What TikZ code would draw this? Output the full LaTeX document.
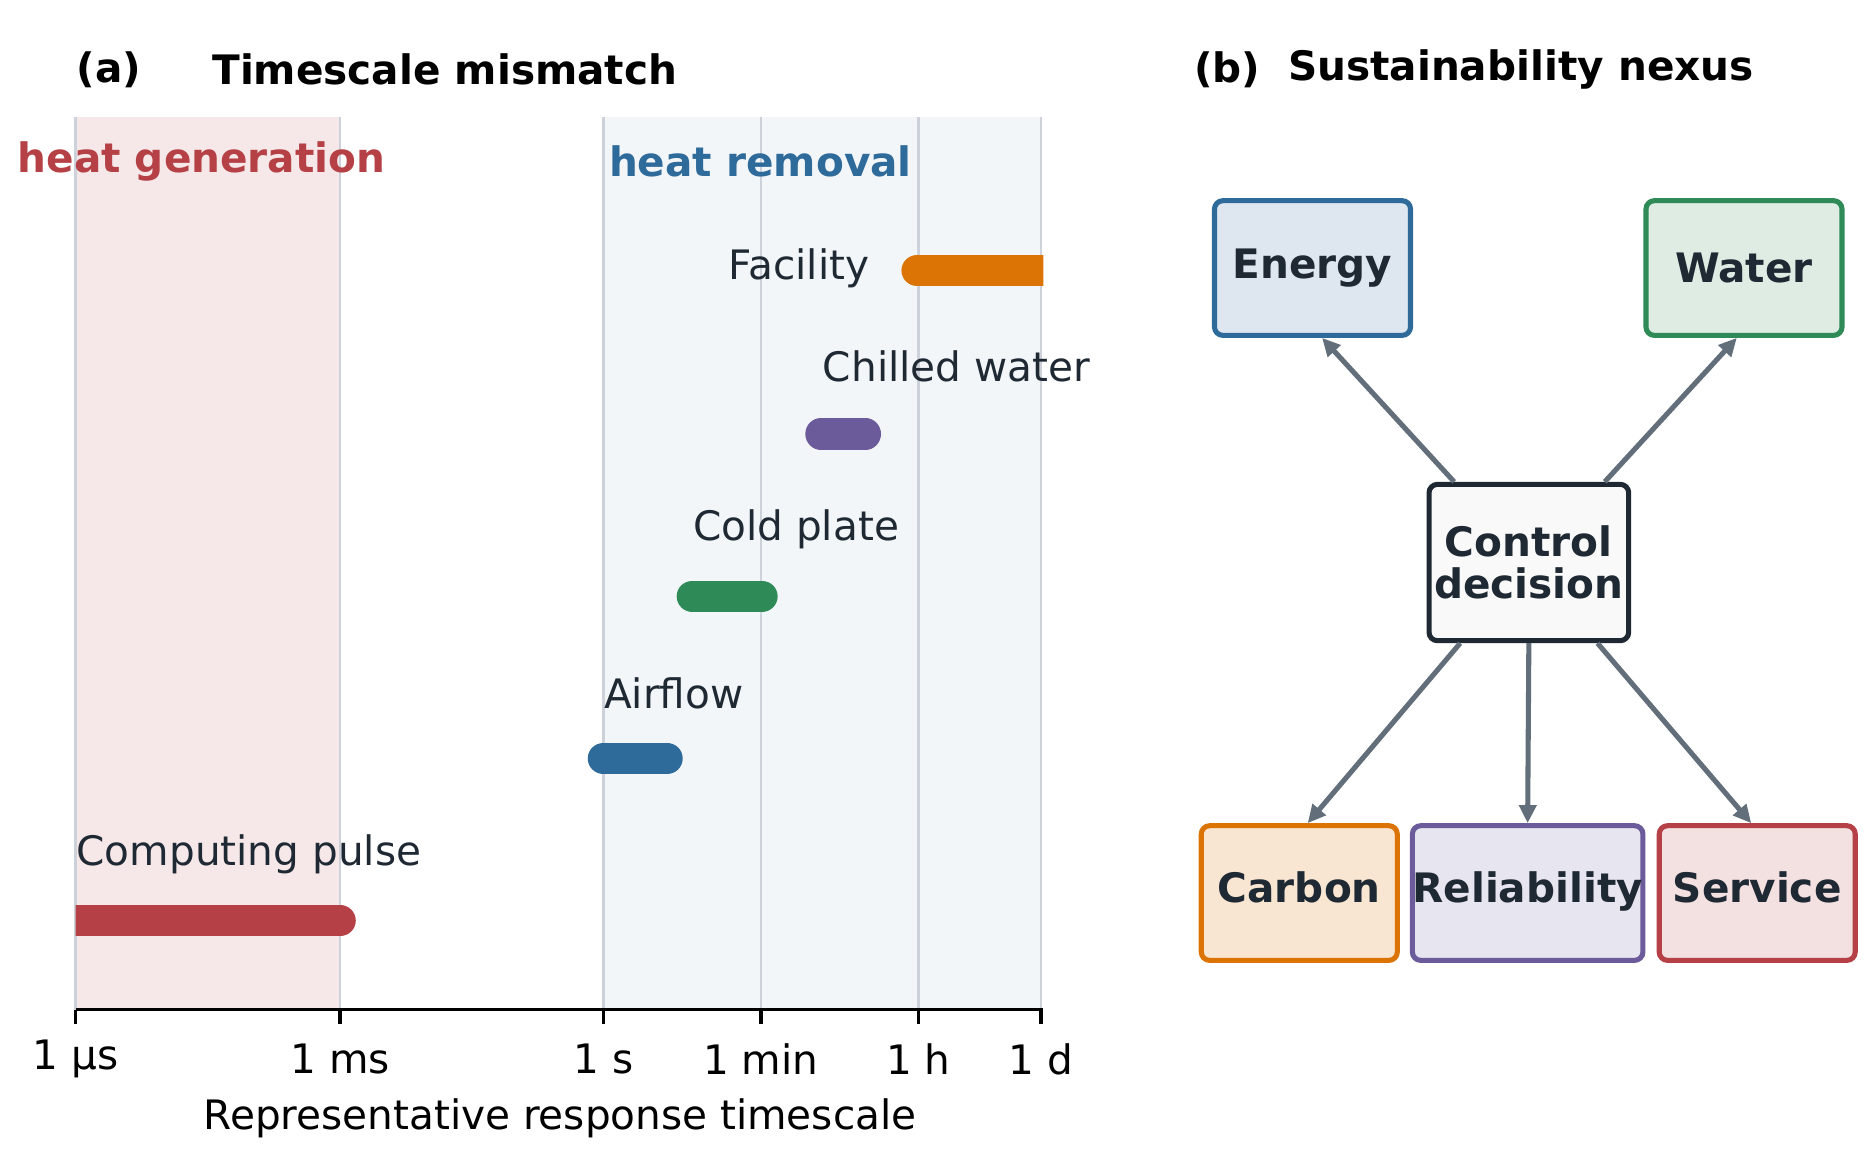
\documentclass[tikz,border=0pt]{standalone}
\usepackage{fontspec}
\setmainfont{DejaVu Sans}
\usetikzlibrary{arrows.meta, positioning}
\definecolor{genred}{HTML}{B54045}
\definecolor{remblue}{HTML}{2E6A9A}
\definecolor{platgreen}{HTML}{2E8B57}
\definecolor{chillpurple}{HTML}{6C5B9B}
\definecolor{facorange}{HTML}{DB7404}
\definecolor{inkdark}{HTML}{1F2933}
\definecolor{arrowgray}{HTML}{636E7B}
\definecolor{gridgray}{HTML}{CDD2DA}

\begin{document}
\begin{tikzpicture}[x=0.01cm, y=-0.01cm,
    lbl/.style={font=\fontsize{9.6}{11}\selectfont, text=inkdark, inner sep=0pt},
    ttl/.style={font=\fontsize{9.6}{11}\selectfont\bfseries, inner sep=0pt, anchor=west},
    bar/.style={line width=0.26cm, line cap=round},
    box/.style={rectangle, rounded corners=0.07cm, line width=1.2pt, minimum width=1.63cm, minimum height=1.12cm, align=center, inner sep=0pt, text=inkdark, font=\fontsize{9.6}{11}\selectfont\bfseries},
    link/.style={-{Triangle[length=0.15cm, width=0.14cm]}, arrowgray, line width=1.2pt}
]
\useasboundingbox (0,0) rectangle (1560,960);

% (a) bands
\fill[genred!12] (63,97) rectangle (283,840);
\fill[remblue!6] (502,97) rectangle (866,840);
\foreach \gx in {63,283,502,633,764,866}
  \draw[gridgray, line width=0.6pt] (\gx,97) -- (\gx,840);

% bars
\begin{scope}
\clip (63,97) rectangle (868,840);
\draw[bar, facorange] (763,225) -- (900,225);
\draw[bar, chillpurple] (683,361) -- (720,361);
\draw[bar, platgreen] (576,496) -- (634,496);
\draw[bar, remblue] (502,631) -- (555,631);
\draw[bar, genred] (30,766) -- (283,766);
\end{scope}

\node[lbl, anchor=east] (fac) at (724,223) {Facility};
\node[lbl, anchor=west] (chw) at (684,305) {Chilled water};
\node[lbl, anchor=west] (cpl) at (576,440) {Cold plate};
\node[lbl, anchor=west] (air) at (502,577) {Airflow};
\node[lbl, anchor=west] (cmp) at (63,711) {Computing pulse};

\node[ttl, text=genred] (hgen) at (14,134) {heat generation};
\node[ttl, text=remblue] (hrem) at (506,134) {heat removal};

% axis
\draw[black, line width=0.8pt] (63,840) -- (868,840);
\foreach \gx/\gl in {63/1 µs,283/1 ms,502/1 s,633/1 min,764/1 h,866/1 d} {
  \draw[black, line width=0.8pt] (\gx,840) -- (\gx,852);
  \node[lbl, text=black] at (\gx,881) {\gl};
}
\node[lbl, text=black] (xlab) at (466,930) {Representative response timescale};

% titles
\node[ttl] (ta) at (63,58) {(a)};
\node[ttl] (tam) at (176,58) {Timescale mismatch};
\node[ttl] (tb) at (993,58) {(b)};
\node[ttl] (tbn) at (1071,58) {Sustainability nexus};

% (b) nexus
\node[box, draw=remblue, fill=remblue!16] (energy) at (1092,223) {Energy};
\node[box, draw=platgreen, fill=platgreen!16] (water) at (1451,223) {Water};
\node[box, draw=inkdark, fill=gray!5, minimum width=1.66cm, minimum height=1.3cm] (ctrl) at (1272,468) {Control\\[-1pt]decision};
\node[box, draw=facorange, fill=facorange!18] (carbon) at (1081,743) {\strut Carbon};
\node[box, draw=chillpurple, fill=chillpurple!16] (rel) at (1271,743) {\strut Reliability};
\node[box, draw=genred, fill=genred!16] (serv) at (1462,743) {\strut Service};

\draw[link] ([xshift=0.23cm]ctrl.north west) -- ([xshift=0.08cm]energy.south);
\draw[link] ([xshift=-0.22cm]ctrl.north east) -- ([xshift=-0.06cm]water.south);
\draw[link] ([xshift=0.28cm]ctrl.south west) -- ([xshift=0.07cm]carbon.north);
\draw[link] (ctrl.south) -- (rel.north);
\draw[link] ([xshift=-0.28cm]ctrl.south east) -- ([xshift=-0.05cm]serv.north);
\end{tikzpicture}
\end{document}
